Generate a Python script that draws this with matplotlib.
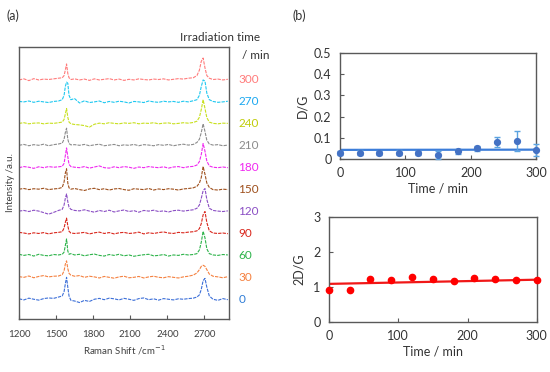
import numpy as np
import matplotlib
matplotlib.use("Agg")
import matplotlib.pyplot as plt
import matplotlib.transforms as mtransforms

plt.rcParams['font.family'] = ['Lato', 'DejaVu Sans']

# ---------------------------------------------------------------
# DATA
# ---------------------------------------------------------------

# Raman shift grid (cm-1), denser around the G and 2D bands
shift = [1200, 1240, 1280, 1320, 1360, 1400, 1440, 1480, 1520,
         1550, 1565, 1575, 1585, 1595, 1605, 1620, 1650,
         1690, 1730, 1770, 1810, 1850, 1890, 1930, 1970, 2010, 2050, 2090,
         2130, 2170, 2210, 2250, 2290, 2330, 2370, 2410, 2450, 2490, 2530, 2570,
         2610, 2640, 2660, 2675, 2690, 2705, 2720, 2740, 2770,
         2810, 2850, 2890]

# irradiation times (min) and their spectra (a.u.)
times = [0, 30, 60, 90, 120, 150, 180, 210, 240, 270, 300]

spec_0 = [0.02, -0.03, 0.05, 0.0, -0.04, 0.03, 0.06, 0.04, 0.1,
          0.15, 0.35, 0.7, 1.0, 0.55, 0.15, -0.05, -0.08,
          -0.15, -0.05, -0.1, 0.0, 0.04, -0.02, 0.05, 0.02, -0.03, 0.04, 0.0,
          -0.05, 0.03, 0.06, -0.02, 0.02, -0.04, 0.03, 0.0, -0.03, 0.02, 0.0, 0.03,
          0.05, 0.1, 0.2, 0.45, 0.85, 0.95, 0.55, 0.15, 0.0,
          -0.05, 0.03, -0.02]
spec_30 = [0.03, 0.0, 0.06, -0.02, 0.04, 0.08, 0.02, 0.05, 0.06,
           0.12, 0.3, 0.6, 0.75, 0.4, 0.18, 0.1, 0.05,
           0.08, 0.0, 0.05, 0.02, -0.03, 0.04, 0.0, -0.04, 0.02, 0.05, -0.02,
           0.0, 0.04, -0.03, 0.02, 0.05, 0.0, -0.02, 0.03, 0.0, -0.03, 0.02, 0.05,
           0.1, 0.2, 0.35, 0.5, 0.55, 0.5, 0.35, 0.15, 0.05,
           0.02, -0.02, 0.03]
spec_60 = [0.05, 0.0, 0.04, -0.03, 0.05, 0.0, -0.02, 0.04, 0.02,
           0.05, 0.15, 0.45, 0.75, 0.2, 0.05, 0.08, 0.02,
           0.05, -0.02, 0.03, 0.06, 0.0, -0.03, 0.04, 0.0, 0.05, -0.02, 0.02,
           -0.04, 0.0, 0.03, 0.05, -0.02, 0.0, 0.04, -0.03, 0.02, 0.0, 0.05, 0.02,
           0.04, 0.08, 0.25, 0.6, 1.1, 0.8, 0.3, 0.08, 0.02,
           0.0, 0.04, 0.02]
spec_90 = [0.05, 0.02, -0.02, 0.03, 0.0, 0.04, -0.02, 0.03, 0.05,
           0.08, 0.25, 0.5, 0.7, 0.35, 0.1, 0.02, 0.0,
           0.02, 0.05, -0.02, 0.03, 0.06, 0.0, 0.04, -0.02, 0.03, 0.05, 0.0,
           0.02, 0.06, -0.02, 0.03, 0.0, 0.04, 0.07, 0.02, 0.0, 0.05, 0.03, 0.06,
           0.08, 0.12, 0.22, 0.45, 0.85, 1.0, 0.5, 0.12, 0.02,
           0.0, 0.02, -0.01]
spec_120 = [0.02, 0.05, 0.0, 0.06, 0.02, -0.05, -0.12, -0.04, 0.05,
            0.1, 0.3, 0.6, 0.8, 0.45, 0.2, 0.1, 0.05,
            0.03, 0.08, 0.02, -0.03, 0.05, 0.0, 0.06, -0.02, 0.03, 0.07, 0.0,
            0.04, -0.03, 0.05, 0.02, 0.06, 0.0, 0.03, -0.02, 0.04, 0.06, 0.02, 0.05,
            0.08, 0.15, 0.3, 0.6, 0.95, 1.05, 0.55, 0.15, 0.05,
            0.02, 0.0, 0.03]
spec_150 = [0.02, 0.05, 0.0, 0.04, 0.02, 0.06, 0.0, 0.03, 0.05,
            0.1, 0.35, 0.75, 0.95, 0.3, 0.08, 0.02, 0.05,
            0.0, -0.04, 0.03, 0.06, 0.0, 0.04, -0.02, 0.03, 0.05, 0.0, -0.03,
            0.04, 0.02, 0.0, 0.05, -0.02, 0.03, 0.0, 0.04, 0.02, -0.02, 0.03, 0.05,
            0.08, 0.15, 0.3, 0.55, 1.05, 0.7, 0.3, 0.1, 0.0,
            -0.02, 0.02, 0.0]
spec_180 = [0.0, 0.05, 0.02, -0.03, 0.04, 0.0, 0.05, 0.02, 0.04,
            0.06, 0.2, 0.55, 0.9, 0.5, 0.15, 0.05, 0.02,
            0.0, 0.05, -0.02, 0.03, 0.08, 0.0, -0.02, 0.04, 0.0, 0.05, 0.02,
            -0.03, 0.03, 0.0, 0.05, 0.02, 0.0, 0.04, -0.02, 0.03, 0.05, 0.0, 0.04,
            0.06, 0.12, 0.28, 0.6, 1.1, 0.75, 0.3, 0.08, 0.02,
            0.0, 0.03, 0.0]
spec_210 = [0.02, 0.06, 0.0, 0.05, 0.02, 0.07, 0.0, 0.05, 0.08,
            0.12, 0.3, 0.6, 0.8, 0.3, 0.1, 0.04, 0.05,
            0.02, 0.06, 0.0, 0.04, 0.07, 0.0, 0.03, 0.06, 0.0, 0.04, 0.02,
            0.06, 0.0, 0.05, 0.03, 0.0, 0.05, 0.02, 0.06, 0.0, 0.04, 0.07, 0.03,
            0.06, 0.15, 0.3, 0.6, 1.0, 0.65, 0.25, 0.08, 0.03,
            0.05, 0.0, 0.03]
spec_240 = [0.02, 0.05, 0.0, 0.03, 0.04, 0.0, 0.03, 0.02, 0.05,
            0.08, 0.2, 0.45, 0.7, 0.3, 0.08, 0.0, -0.03,
            -0.05, -0.08, -0.15, -0.02, 0.03, 0.0, 0.05, 0.02, 0.0, 0.04, 0.02,
            0.05, 0.0, 0.03, 0.02, 0.05, 0.0, 0.03, 0.04, 0.0, 0.02, 0.05, 0.03,
            0.06, 0.12, 0.3, 0.65, 1.1, 0.7, 0.28, 0.08, 0.02,
            0.0, 0.03, 0.02]
spec_270 = [0.02, 0.0, 0.04, -0.02, 0.03, 0.0, -0.03, 0.02, 0.04,
            0.1, 0.3, 0.7, 0.9, 0.85, 0.3, 0.1, 0.15,
            -0.05, 0.05, -0.03, 0.0, 0.04, -0.04, 0.02, -0.02, 0.03, 0.0, -0.05,
            0.02, 0.0, -0.03, 0.04, 0.0, -0.02, 0.03, 0.0, 0.02, -0.02, 0.03, 0.0,
            0.05, 0.1, 0.3, 0.7, 1.0, 0.95, 0.4, 0.1, 0.02,
            -0.02, 0.0, 0.03]
spec_300 = [0.0, 0.05, -0.03, 0.06, 0.0, 0.04, 0.02, 0.05, 0.08,
            0.1, 0.2, 0.45, 0.73, 0.3, 0.1, 0.02, 0.05,
            0.0, 0.04, -0.02, 0.05, 0.0, 0.03, 0.06, 0.0, 0.04, -0.02, 0.03,
            0.0, 0.05, 0.02, 0.0, 0.04, 0.02, 0.05, 0.0, 0.03, 0.06, 0.04, 0.08,
            0.1, 0.2, 0.45, 0.85, 1.0, 0.55, 0.2, 0.08, 0.02,
            0.04, 0.0, 0.03]

spectra = [spec_0, spec_30, spec_60, spec_90, spec_120, spec_150,
           spec_180, spec_210, spec_240, spec_270, spec_300]
line_colors = ['#3C6FD8', '#F58140', '#2DB34A', '#D9261C', '#8B4FC4', '#9E4F1C',
               '#F028F0', '#8C8C8C', '#C8E01E', '#1FC8F0', '#FF7B7B']
label_colors = ['#2E7CD6', '#F58140', '#2DB34A', '#D9261C', '#8B4FC4', '#9E4F1C',
                '#F028F0', '#8C8C8C', '#BFCC0A', '#1CA8F0', '#FF7B7B']

# D/G and 2D/G ratios vs irradiation time
dg = [0.029, 0.030, 0.030, 0.030, 0.030, 0.018, 0.036, 0.050, 0.080, 0.085, 0.043]
dg_err = [0.010, 0.012, 0.010, 0.012, 0.010, 0.018, 0.012, 0.012, 0.025, 0.045, 0.030]
dg_trend = [0.043, 0.044]
ddg = [0.92, 0.92, 1.24, 1.19, 1.29, 1.24, 1.16, 1.27, 1.24, 1.19, 1.21]
ddg_trend = [1.09, 1.21]

# ---------------------------------------------------------------
# FIGURE
# ---------------------------------------------------------------
frame_col = '#595959'
fig = plt.figure(figsize=(5.5, 3.72), dpi=100)

# (a) stacked Raman spectra
ax_a = fig.add_axes([0.0345, 0.1425, 0.382, 0.731])
for i, (sp, col) in enumerate(zip(spectra, line_colors)):
    assert len(sp) == len(shift)
    ax_a.plot(shift, np.array(sp) + i, color=col, lw=0.8, ls=(0, (3, 1)))
ax_a.set_xlim(1200, 2900)
ax_a.set_ylim(-0.9, 11.5)
ax_a.set_xticks([1200, 1500, 1800, 2100, 2400, 2700])
ax_a.set_yticks([])
ax_a.tick_params(axis='x', direction='in', length=3, labelsize=7, colors=frame_col,
                 labelcolor='#404040', pad=8)
ax_a.set_xlabel('Raman Shift /cm$^{-1}$', fontsize=7, color='#404040', labelpad=3)
ax_a.set_ylabel('Intensity /a.u.', fontsize=7, color='#404040', labelpad=3)
for s in ax_a.spines.values():
    s.set_color(frame_col)
    s.set_linewidth(1.0)

trans = mtransforms.blended_transform_factory(ax_a.transAxes, ax_a.transData)
for i, (t, col) in enumerate(zip(times, label_colors)):
    ax_a.text(1.045, i, str(t), transform=trans, color=col, fontsize=8.5,
              ha='left', va='center')
fig.text(0.327, 0.9, 'Irradiation time', fontsize=8.5, color='#333333', ha='left', va='center')
fig.text(0.44, 0.852, '/ min', fontsize=8.5, color='#333333', ha='left', va='center')
fig.text(0.012, 0.958, '(a)', fontsize=9, color='#333333', ha='left', va='center')
fig.text(0.532, 0.958, '(b)', fontsize=9, color='#333333', ha='left', va='center')

# (b) top: D/G
ax_b1 = fig.add_axes([0.618, 0.5726, 0.357, 0.285])
ax_b1.plot([times[0], times[-1]], dg_trend, color='#3C7DD9', lw=1.6, zorder=2)
ax_b1.errorbar(times, dg, yerr=dg_err, fmt='o', ms=4.2, color='#4472C4',
               ecolor='#5BA3E0', elinewidth=1.0, capsize=2, capthick=1.0,
               zorder=3, clip_on=False)
ax_b1.set_xlim(0, 300)
ax_b1.set_ylim(0, 0.5)
ax_b1.set_xticks([0, 100, 200, 300])
ax_b1.set_yticks([0, 0.1, 0.2, 0.3, 0.4, 0.5])
ax_b1.set_yticklabels(['0', '0.1', '0.2', '0.3', '0.4', '0.5'])
ax_b1.set_ylabel('D/G', fontsize=9, color='#333333', labelpad=4)
ax_b1.set_xlabel('Time / min', fontsize=9, color='#333333', labelpad=2)

# (b) bottom: 2D/G
ax_b2 = fig.add_axes([0.598, 0.1344, 0.378, 0.282])
ax_b2.plot([times[0], times[-1]], ddg_trend, color='#F01818', lw=1.6, zorder=2)
ax_b2.plot(times, ddg, 'o', ms=4.5, color='#FF0000', zorder=3, clip_on=False)
ax_b2.set_xlim(0, 300)
ax_b2.set_ylim(0, 3)
ax_b2.set_xticks([0, 100, 200, 300])
ax_b2.set_yticks([0, 1, 2, 3])
ax_b2.set_ylabel('2D/G', fontsize=9, color='#333333', labelpad=6)
ax_b2.set_xlabel('Time / min', fontsize=9, color='#333333', labelpad=2)

for ax in (ax_b1, ax_b2):
    ax.tick_params(direction='in', length=3, labelsize=9, colors=frame_col,
                   labelcolor='#333333', pad=6)
    for s in ax.spines.values():
        s.set_color(frame_col)
        s.set_linewidth(1.0)

fig.savefig('out.png', dpi=100)
